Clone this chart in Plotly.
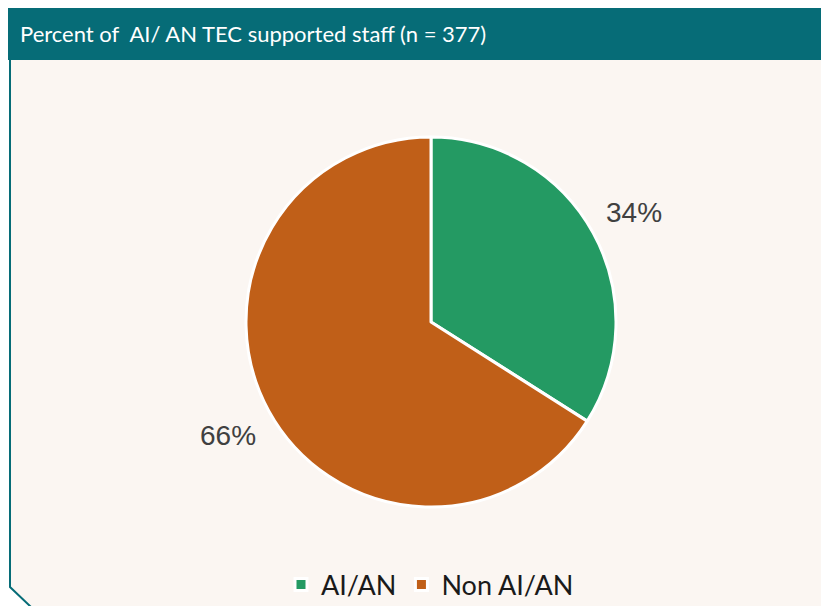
import math
import plotly.graph_objects as go

# ---- data ----
labels = ["AI/AN", "Non AI/AN"]
values = [34, 66]
colors = ["#249A63", "#C05F18"]
title_text = "Percent of  AI/ AN TEC supported staff (n = 377)"

# page offset (browser body margin) compensation
OX, OY = 8, 8
W, H = 829 - OX, 606 - OY
def px(x):
    return (x - OX) / W
def py(y):
    return 1 - (y - OY) / H

cx, cy, r = 431, 322, 185

fig = go.Figure()
fig.add_trace(go.Pie(
    labels=labels,
    values=values,
    marker=dict(colors=colors, line=dict(color="white", width=3)),
    sort=False,
    direction="clockwise",
    rotation=0,
    textinfo="none",
    hoverinfo="label+percent",
    domain=dict(x=[px(cx - r), px(cx + r)], y=[py(cy + r), py(cy - r)]),
))

# percentage labels placed outside each slice, from the data
total = sum(values)
annotations = []
cum = 0
for v in values:
    mid = (cum + v / 2) / total * 2 * math.pi
    cum += v
    d = 1.25 * r
    lx = cx + d * math.sin(mid)
    ly = cy - d * math.cos(mid) + 2
    annotations.append(dict(
        x=px(lx), y=py(ly), xref="paper", yref="paper",
        text=f"{round(v / total * 100)}%", showarrow=False,
        font=dict(family="Liberation Sans, Arial, sans-serif", size=28, color="#404040"),
        xanchor="center", yanchor="middle",
    ))

annotations.append(dict(
    x=px(18), y=py(34), xref="paper", yref="paper",
    text=title_text, showarrow=False,
    font=dict(family="Lato, sans-serif", size=22, color="white"),
    xanchor="left", yanchor="middle",
))

shapes = [
    # body background
    dict(type="path", xref="paper", yref="paper",
         path=f"M {px(10)},{py(60)} L {px(835)},{py(60)} L {px(835)},{py(620)} "
              f"L {px(31)},{py(620)} L {px(31)},{py(607)} L {px(10)},{py(587)} Z",
         fillcolor="#FBF6F2", line=dict(width=0), layer="below"),
    # left border
    dict(type="path", xref="paper", yref="paper",
         path=f"M {px(10)},{py(60)} L {px(10)},{py(587)} L {px(31)},{py(607)}",
         line=dict(color="#066C77", width=2), layer="below"),
    # header bar
    dict(type="rect", xref="paper", yref="paper",
         x0=px(8), x1=px(840), y0=py(60), y1=py(7),
         fillcolor="#066C77", line=dict(width=0), layer="below"),
]

fig.update_layout(
    width=W, height=H,
    margin=dict(l=0, r=0, t=0, b=0, autoexpand=False),
    paper_bgcolor="white",
    plot_bgcolor="white",
    showlegend=True,
    legend=dict(
        orientation="h", x=px(430), xanchor="center", y=py(585), yanchor="middle",
        font=dict(family="Lato, sans-serif", size=27, color="#1a1a1a"),
        bgcolor="rgba(0,0,0,0)", itemwidth=30, traceorder="normal",
    ),
    annotations=annotations,
    shapes=shapes,
)

fig.write_html("out.html")
